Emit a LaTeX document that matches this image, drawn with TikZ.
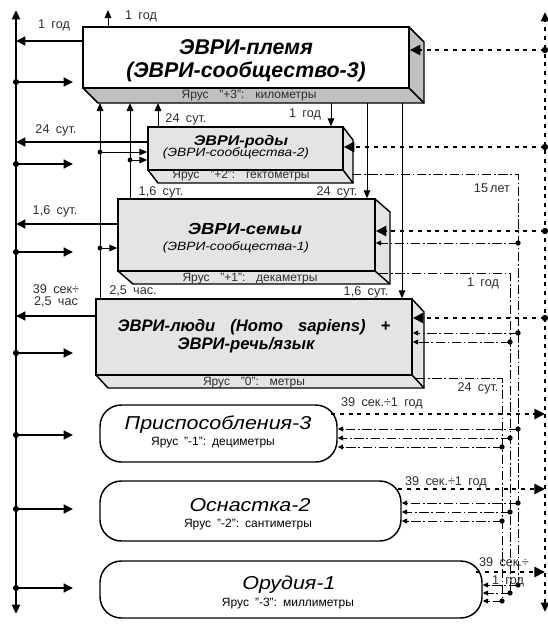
\documentclass[tikz,border=0pt]{standalone}
\usepackage{fontspec}
\setmainfont{Liberation Sans}
\newfontfamily\stretchfont{Liberation Sans}[FakeStretch=1.15]
\usetikzlibrary{arrows.meta,fit}
\definecolor{sideg}{RGB}{192,192,192}
\definecolor{frontg}{RGB}{228,228,228}
\definecolor{lbl}{RGB}{45,45,45}
\newcommand\gap{\hspace{0.5em}}
\newcommand\wgap{\hspace{0.9em}}
\tikzset{
  edge/.style={line width=1.1pt, line join=miter},
  axisline/.style={line width=2pt},
  thickarr/.style={line width=1.9pt, -{Triangle[length=7pt,width=6.5pt]}},
  thinarr/.style={line width=0.75pt, -{Triangle[length=6pt,width=5pt]}},
  bigdots/.style={line width=2.2pt, dash pattern=on 3pt off 3.6pt},
  bigdotarr/.style={bigdots, -{Triangle[length=8pt,width=7.5pt]}},
  dashdot/.style={line width=0.7pt, dash pattern=on 7pt off 2pt on 1.2pt off 2pt},
  ddarr/.style={dashdot, -{Triangle[length=4pt,width=3.6pt]}},
  lab/.style={font=\fontsize{9.5}{9}\selectfont, text=lbl, inner sep=0pt, align=center},
  strip/.style={font=\fontsize{9}{10}\selectfont, text=lbl, inner sep=0pt},
  rbox/.style={draw, edge, rounded corners=16pt, inner sep=0pt},
  fbox/.style={draw, edge, inner sep=0pt},
}
\begin{document}
\begin{tikzpicture}[x=0.75pt,y=-0.75pt]
\useasboundingbox (0,0) rectangle (547,628);
% ---------- box 1
\fill[sideg] (409,27) -- (424,42) -- (424,103) -- (98,103) -- (83,88) -- cycle;
\draw[edge] (409,27) -- (424,42) -- (424,103) -- (98,103) -- (83,88);
\draw[edge] (409,88) -- (424,103);
\node[fbox, fill=white, fit={(83,27) (409,88)}] (b1) {};
\node[font=\fontsize{16}{17}\selectfont\bfseries\itshape, align=center, inner sep=0pt] (t1) at (246,61) {ЭВРИ-племя\\(ЭВРИ-сообщество-3)};
\node[strip] (s1) at (249,96) {Ярус\wgap"+3":\wgap километры};
% ---------- box 2
\fill[frontg] (343,127) -- (353,140) -- (353,183) -- (158,183) -- (148,170) -- cycle;
\draw[edge] (343,127) -- (353,140) -- (353,183) -- (158,183) -- (148,170);
\draw[edge] (343,170) -- (353,183);
\node[fbox, fill=frontg, fit={(148,127) (343,170)}] (b2) {};
\node[font=\stretchfont\fontsize{10.5}{11}\selectfont\bfseries\itshape, inner sep=0pt] (t2) at (241,142) {ЭВРИ-роды};
\node[font=\stretchfont\fontsize{9}{10}\selectfont\itshape, inner sep=0pt] (t2b) at (236,153) {(ЭВРИ-сообщества-2)};
\node[strip] (s2) at (241,176) {Ярус\wgap"+2":\wgap гектометры};
% ---------- box 3
\fill[frontg] (375,199) -- (390,212) -- (390,284) -- (133,284) -- (118,271) -- cycle;
\draw[edge] (375,199) -- (390,212) -- (390,284) -- (133,284) -- (118,271);
\draw[edge] (375,271) -- (390,284);
\node[fbox, fill=frontg, fit={(118,199) (375,271)}] (b3) {};
\node[font=\stretchfont\fontsize{12}{13}\selectfont\bfseries\itshape, inner sep=0pt] (t3) at (245,229) {ЭВРИ-семьи};
\node[font=\stretchfont\fontsize{9}{10}\selectfont\itshape, inner sep=0pt] (t3b) at (236,247) {(ЭВРИ-сообщества-1)};
\node[strip] (s3) at (250,279) {Ярус\wgap"+1":\wgap декаметры};
% ---------- box 4
\fill[frontg] (412,299) -- (424,312) -- (424,388) -- (108,388) -- (96,375) -- cycle;
\draw[edge] (412,299) -- (424,312) -- (424,388) -- (108,388) -- (96,375);
\draw[edge] (412,375) -- (424,388);
\node[fbox, fill=frontg, fit={(96,299) (412,375)}] (b4) {};
\node[font=\fontsize{12.5}{13.5}\selectfont\bfseries\itshape, inner sep=0pt] (t4) at (254,327) {ЭВРИ-люди\wgap(Homo\wgap sapiens)\wgap +};
\node[font=\fontsize{12.5}{13.5}\selectfont\bfseries\itshape, inner sep=0pt] (t4b) at (246,345) {ЭВРИ-речь/язык};
\node[strip] (s4) at (254,383) {Ярус\wgap"0":\wgap метры};
% ---------- rounded boxes
\node[rbox, fit={(100,405) (337,462)}] (b5) {};
\node[font=\stretchfont\fontsize{14}{15}\selectfont\itshape, inner sep=0pt] (t5) at (218,425) {Приспособления-3};
\node[strip, text=black] (s5) at (213,443) {Ярус\gap"-1":\gap дециметры};
\node[rbox, fit={(100,481) (401,541)}] (b6) {};
\node[font=\stretchfont\fontsize{14}{15}\selectfont\itshape, inner sep=0pt] (t6) at (250,505) {Оснастка-2};
\node[strip, text=black] (s6) at (248,525) {Ярус\gap"-2":\gap сантиметры};
\node[rbox, fit={(100,561) (482,618)}] (b7) {};
\node[font=\stretchfont\fontsize{14}{15}\selectfont\itshape, inner sep=0pt] (t7) at (289,585) {Орудия-1};
\node[strip, text=black] (s7) at (288,604) {Ярус\gap"-3":\gap миллиметры};
% ---------- left axis
\coordinate (Ltop) at (16,10);
\coordinate (Lbot) at (16,614);
\draw[axisline, {Triangle[length=7pt,width=6pt]}-{Triangle[length=7pt,width=6pt]}] (Lbot) -- (Ltop);
\draw[thickarr] (b1.west |- 0,41) -- (Ltop |- 0,41);
\draw[thickarr] (b2.west |- 0,142) -- (Ltop |- 0,142);
\draw[thickarr] (b3.west |- 0,224) -- (Ltop |- 0,224);
\draw[thickarr] (b4.west |- 0,316) -- (Ltop |- 0,316);
\foreach \yy/\nm in {82/r1,164/r2,252/r3,353/r4,435/r5,509/r6,588/r7} {
  \coordinate (\nm) at (73,\yy);
  \fill (Ltop |- \nm) circle (2.3pt);
  \draw[thickarr] (Ltop |- \nm) -- (\nm);
}
% ---------- thin solid connectors
\coordinate (v1) at (100,0);
\coordinate (v2) at (130,0);
\coordinate (v3) at (158,0);
\coordinate (d1) at (331,0);
\coordinate (d2) at (367,0);
\coordinate (d3) at (402,0);
\coordinate (u1) at (108,10);
\coordinate (b1b) at (0,103);
\draw[thinarr] (v1 |- b4.north) -- (v1 |- b1b);
\draw[thinarr] (v2 |- b3.north) -- (v2 |- b1b);
\draw[thinarr] (v3 |- b2.north) -- (v3 |- b1b);
\draw[thinarr] (d1 |- b1b) -- (d1 |- b2.north);
\draw[thinarr] (d2 |- b1b) -- (d2 |- b3.north);
\draw[thinarr] (d3 |- b1b) -- (d3 |- b4.north);
\draw[thinarr] (u1 |- b1.north) -- (u1);
\fill (v1 |- 0,152) circle (1.8pt);
\draw[thinarr] (v1 |- 0,152) -- (b2.west |- 0,152);
\fill (v2 |- 0,160) circle (1.8pt);
\draw[thinarr] (v2 |- 0,160) -- (b2.west |- 0,160);
\fill (v1 |- 0,248) circle (1.8pt);
\draw[thinarr] (v1 |- 0,248) -- (b3.west |- 0,248);
% ---------- right dotted axis
\coordinate (Rtop) at (545,12);
\coordinate (Rbot) at (545,612);
\draw[bigdots, {Triangle[length=7pt,width=6pt]}-{Triangle[length=7pt,width=6pt]}] (Rbot) -- (Rtop);
\foreach \yy/\bx in {50/b1,147/b2,231/b3,318/b4} {
  \fill (Rtop |- 0,\yy) circle (2.4pt);
  \draw[bigdotarr] (Rtop |- 0,\yy) -- (\bx.east |- 0,\yy);
}
\coordinate (o5) at (331,414);
\coordinate (o6) at (398,489);
\coordinate (o7) at (476,572);
\draw[bigdotarr] (o5) -- (Rtop |- o5);
\draw[bigdotarr] (o6) -- (Rtop |- o6);
\draw[bigdotarr] (o7) -- (Rtop |- o7);
% ---------- dash-dot connectors
\coordinate (c15) at (518,0);
\coordinate (c1) at (510,0);
\coordinate (c24) at (502,0);
\draw[dashdot] (352,174) -- (c15 |- 0,174) -- (c15 |- 0,585);
\draw[dashdot] (379,273) -- (c1 |- 0,273) -- (c1 |- 0,593);
\draw[dashdot] (416,378) -- (c24 |- 0,378) -- (c24 |- 0,601);
\foreach \cx/\yy/\bx in {c15/243/b3, c15/333/b4, c1/342/b4,
  c15/429/b5, c1/438/b5, c24/447/b5,
  c15/503/b6, c1/512/b6, c24/521/b6,
  c15/585/b7, c1/593/b7, c24/601/b7} {
  \fill (\cx |- 0,\yy) circle (2pt);
  \draw[ddarr] (\cx |- 0,\yy) -- (\bx.east |- 0,\yy);
}
% ---------- labels
\node[lab] (l1) at (141,16) {1\gap год};
\node[lab] (l2) at (54,25) {1\gap год};
\node[lab] (l3) at (186,119) {24\gap сут.};
\node[lab] (l4) at (305,114) {1\gap год};
\node[lab] (l5) at (56,130) {24\gap сут.};
\node[lab] (l6) at (161,192) {1,6\gap сут.};
\node[lab] (l7) at (337,192) {24\gap сут.};
\node[lab] (l8) at (492,188) {15\,лет};
\node[lab] (l9) at (483,283) {1\gap год};
\node[lab] (l10) at (366,292) {1,6\gap сут.};
\node[lab] (l11) at (133,291) {2,5\gap час.};
\node[lab] (l12) at (55,211) {1,6\gap сут.};
\node[lab] (l13) at (56,296) {39\gap сек÷\\2,5\gap час};
\node[lab] (l14) at (478,388) {24\gap сут.};
\node[lab] (l15) at (382,403) {39\gap сек.÷1\gap год};
\node[lab] (l16) at (446,482) {39\gap сек.÷1\gap год};
\node[lab] (l17) at (504,562) {39\gap сек.÷};
\node[lab] (l18) at (508,581) {1\gap год};
\end{tikzpicture}
\end{document}
